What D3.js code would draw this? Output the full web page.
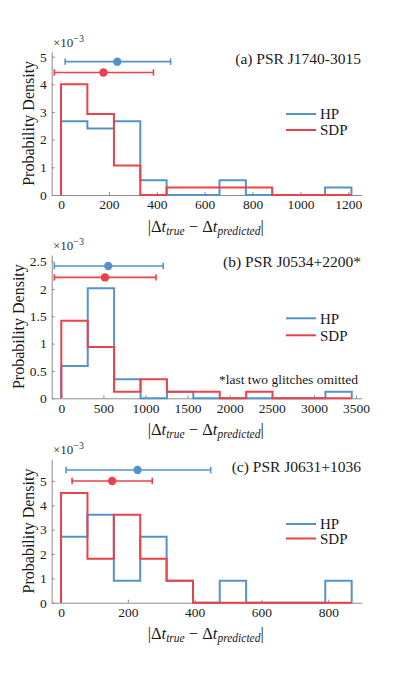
<!DOCTYPE html>
<html><head><meta charset="utf-8">
<script src="https://cdn.jsdelivr.net/npm/d3@7"></script>
<style>body{margin:0;background:#fff} svg text{font-family:"Liberation Serif","DejaVu Serif",serif}</style></head>
<body>
<script>
// ---- data (densities in units of 1e-3) ----
const titles = ["(a) PSR J1740-3015", "(b) PSR J0534+2200*", "(c) PSR J0631+1036"];
const seriesNames = ["HP", "SDP"];
const edgesA = [0,110,221,331,441,551,662,772,882,992,1103,1213];
const edgesB = [0,314,627,941,1255,1568,1882,2196,2509,2823,3137,3450];
const edgesC = [0,79,158,237,316,395,475,554,633,712,791,870];
const hpA  = [2.67,2.40,2.67,0.53,0,0,0.53,0,0,0,0.27];
const sdpA = [4.00,2.93,1.07,0,0.27,0.27,0.27,0.27,0,0,0];
const hpB  = [0.59,2.01,0.35,0,0.12,0,0,0,0,0,0.12];
const sdpB = [1.42,0.94,0.12,0.35,0.12,0.12,0,0.12,0,0,0];
const hpC  = [2.71,3.61,0.90,2.71,0.90,0,0.90,0,0,0,0.90];
const sdpC = [4.51,1.81,3.61,1.81,0.90,0,0,0,0,0,0];
// mean and error-bar extents per panel
const hpMean = [235, 558, 229],  hpLo = [17, -83, 15],  hpHi = [458, 1211, 448],  hpMarkY = [4.82, 2.42, 5.45];
const sdpMean = [177, 519, 153], sdpLo = [-28, -83, 33], sdpHi = [386, 1125, 273], sdpMarkY = [4.43, 2.21, 5.00];
const xTicksA = [0,200,400,600,800,1000,1200];
const xTicksB = [0,500,1000,1500,2000,2500,3000,3500];
const xTicksC = [0,200,400,600,800];
const yTicksA = [0,1,2,3,4,5];
const yTicksB = [0,0.5,1,1.5,2,2.5];
const yTicksC = [0,1,2,3,4,5];
const footnote = "*last two glitches omitted";

// ---- layout ----
const W = 399, H = 681;
const BLUE = "#5493c9", RED = "#e9424b", AXIS = "#8c8c8c", TXT = "#1a1a1a";
const panels = [
  {edges: edgesA, hp: hpA, sdp: sdpA, xd: [-39, 1256], yd: [0, 5.18], top: 51.7, bottom: 195, xt: xTicksA, yt: yTicksA, titleY: 63.5, legY: [114, 130], ylx: 33.5},
  {edges: edgesB, hp: hpB, sdp: sdpB, xd: [-114, 3568], yd: [0, 2.62], top: 255, bottom: 398.3, xt: xTicksB, yt: yTicksB, titleY: 266.5, legY: [318.3, 335.3], ylx: 23.5},
  {edges: edgesC, hp: hpC, sdp: sdpC, xd: [-28, 900], yd: [0, 5.89], top: 459.3, bottom: 602.7, xt: xTicksC, yt: yTicksC, titleY: 472, legY: [524, 538.5], ylx: 33.5}
];
const L = 51.7, R = 361.7;

const svg = d3.select("body").append("svg").attr("width", W).attr("height", H);

panels.forEach((p, i) => {
  const x = d3.scaleLinear().domain(p.xd).range([L, R]);
  const y = d3.scaleLinear().domain(p.yd).range([p.bottom, p.top]);
  const g = svg.append("g");

  // axes
  const xa = g.append("g").attr("transform", `translate(0,${p.bottom})`)
    .call(d3.axisBottom(x).tickValues(p.xt).tickSizeInner(-3).tickSizeOuter(0).tickPadding(7).tickFormat(d3.format("d")));
  const ya = g.append("g").attr("transform", `translate(${L},0)`)
    .call(d3.axisLeft(y).tickValues(p.yt).tickSizeInner(-3).tickSizeOuter(0).tickPadding(5).tickFormat(d => d));
  [xa, ya].forEach(a => {
    a.attr("font-family", null);
    a.select(".domain").attr("stroke", AXIS).attr("stroke-width", 1);
    a.selectAll(".tick line").attr("stroke", AXIS);
    a.selectAll(".tick text").attr("fill", TXT).style("font-size", "13.5px");
  });
  xa.selectAll(".tick text").attr("dy", "0.55em");

  // histograms (stairs)
  const stairs = (vals) => {
    const pts = [[p.edges[0], 0]];
    vals.forEach((v, k) => { pts.push([p.edges[k], v]); pts.push([p.edges[k + 1], v]); });
    pts.push([p.edges[p.edges.length - 1], 0]);
    return d3.line().x(d => x(d[0])).y(d => y(d[1]))(pts);
  };
  g.append("path").attr("d", stairs(p.hp)).attr("fill", "none").attr("stroke", BLUE).attr("stroke-width", 2);
  g.append("path").attr("d", stairs(p.sdp)).attr("fill", "none").attr("stroke", RED).attr("stroke-width", 2);

  // error bars with mean markers
  const eb = (mean, lo, hi, my, col) => {
    const yy = y(my);
    g.append("line").attr("x1", x(lo)).attr("x2", x(hi)).attr("y1", yy).attr("y2", yy).attr("stroke", col).attr("stroke-width", 1.6);
    [lo, hi].forEach(v => g.append("line").attr("x1", x(v)).attr("x2", x(v)).attr("y1", yy - 3.2).attr("y2", yy + 3.2).attr("stroke", col).attr("stroke-width", 1.6));
    g.append("circle").attr("cx", x(mean)).attr("cy", yy).attr("r", 4.2).attr("fill", col);
  };
  eb(hpMean[i], hpLo[i], hpHi[i], hpMarkY[i], BLUE);
  eb(sdpMean[i], sdpLo[i], sdpHi[i], sdpMarkY[i], RED);

  // exponent label
  const ex = g.append("text").attr("x", 53).attr("y", p.top - 5).attr("fill", "#333").style("font-size", "13px");
  ex.append("tspan").text("×10");
  ex.append("tspan").attr("dy", -5).style("font-size", "10px").text("−3");

  // title
  g.append("text").attr("x", 361).attr("y", p.titleY).attr("text-anchor", "end").attr("fill", TXT)
    .style("font-size", "15.5px").text(titles[i]);

  // legend
  [BLUE, RED].forEach((c, k) => {
    g.append("line").attr("x1", 286).attr("x2", 316).attr("y1", p.legY[k]).attr("y2", p.legY[k]).attr("stroke", c).attr("stroke-width", 2);
    g.append("text").attr("x", 320).attr("y", p.legY[k]).attr("dy", "0.35em").attr("fill", TXT)
      .style("font-size", "15px").text(seriesNames[k]);
  });

  // y label
  g.append("text").attr("transform", `translate(${p.ylx},${(p.top + p.bottom) / 2}) rotate(-90)`)
    .attr("text-anchor", "middle").attr("fill", TXT).style("font-size", "16px").text("Probability Density");

  // x label
  const xl = g.append("text").attr("x", (L + R) / 2 - 1).attr("y", p.bottom + 36.5).attr("text-anchor", "middle")
    .attr("fill", TXT).style("font-size", "16.5px");
  xl.append("tspan").text("|Δ");
  xl.append("tspan").style("font-style", "italic").text("t");
  xl.append("tspan").attr("dy", 3).style("font-style", "italic").style("font-size", "11.5px").text("true");
  xl.append("tspan").attr("dy", -3).text(" − Δ");
  xl.append("tspan").style("font-style", "italic").text("t");
  xl.append("tspan").attr("dy", 3).style("font-style", "italic").style("font-size", "11.5px").text("predicted");
  xl.append("tspan").attr("dy", -3).text("|");

  if (i === 1) {
    g.append("text").attr("x", 358).attr("y", 384).attr("text-anchor", "end").attr("fill", TXT)
      .style("font-size", "13.5px").text(footnote);
  }
});
</script>
</body></html>
